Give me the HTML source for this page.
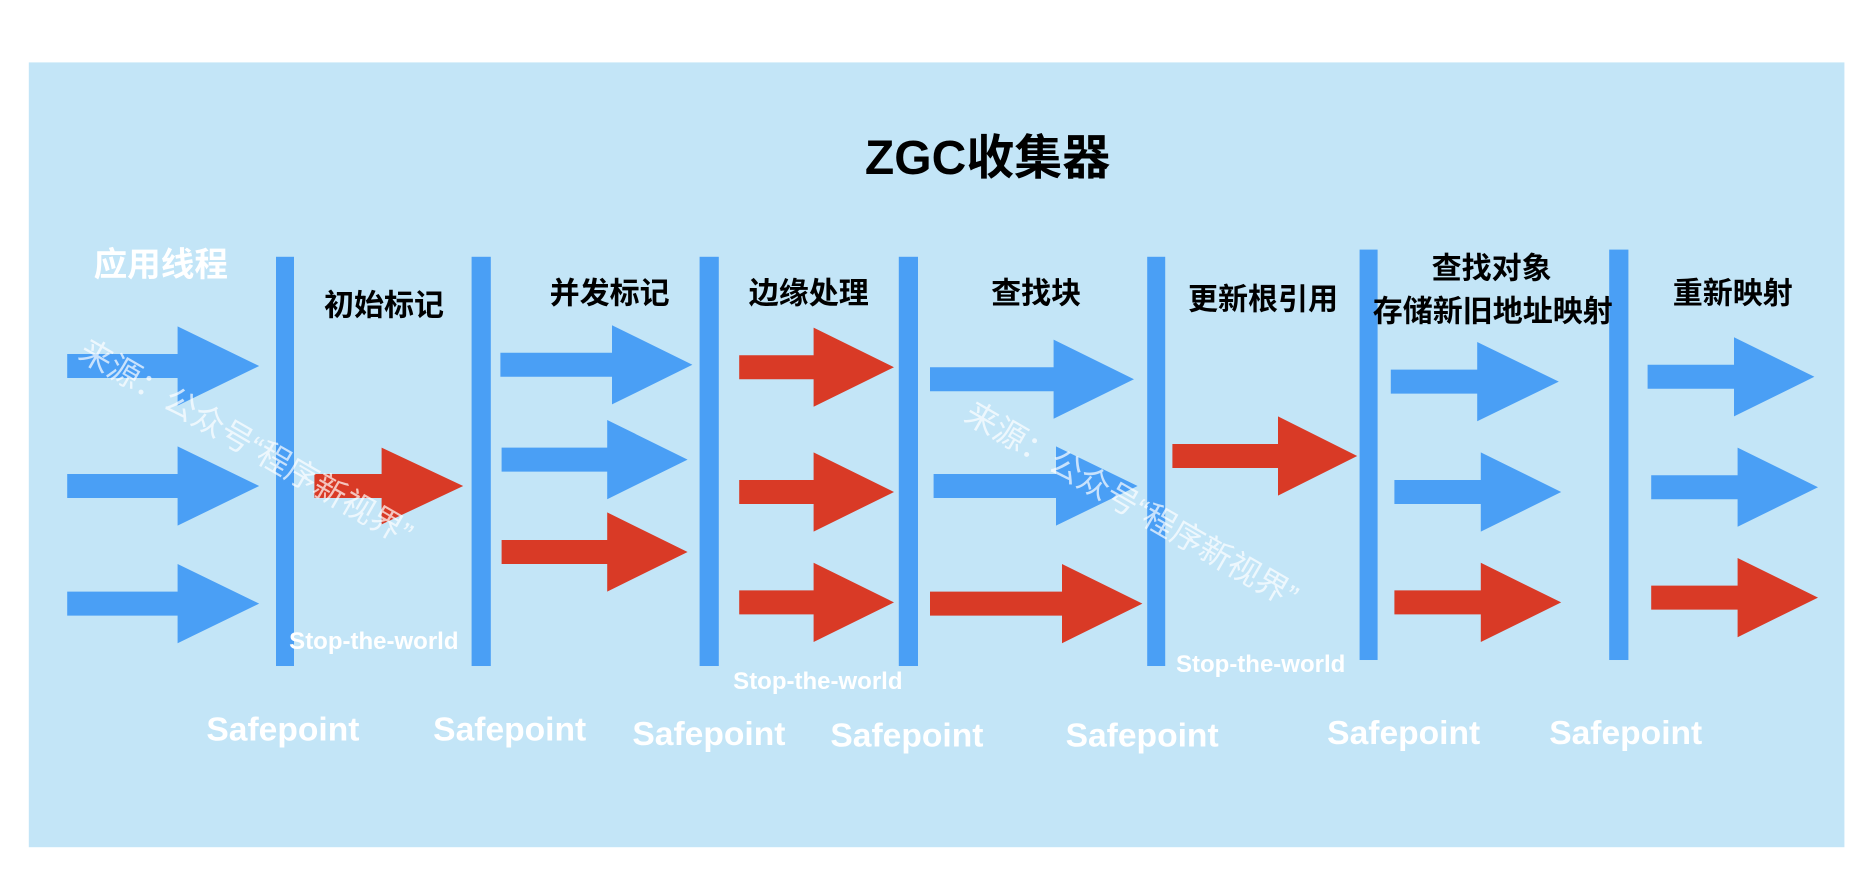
<!DOCTYPE html>
<html><head><meta charset="utf-8"><style>
html,body{margin:0;padding:0;background:#fff;width:1872px;height:880px;overflow:hidden}
svg{display:block}
text{font-family:"Liberation Sans","Noto Sans CJK SC",sans-serif;font-weight:bold}
</style></head><body>
<svg width="1872" height="880" viewBox="0 0 1560 733.33" preserveAspectRatio="none" xmlns="http://www.w3.org/2000/svg">
<rect x="0" y="0" width="1560" height="734" fill="#fff"/>
<rect x="24" y="52" width="1513" height="654" fill="#c3e5f7"/>
<text x="823" y="145" font-size="40" text-anchor="middle" fill="#000">ZGC收集器</text>
<g fill="#4a9ff5">
<rect x="230" y="214" width="15" height="341"/>
<rect x="393" y="214" width="16" height="341"/>
<rect x="583" y="214" width="16" height="341"/>
<rect x="749" y="214" width="16" height="341"/>
<rect x="956" y="214" width="15" height="341"/>
<rect x="1133" y="208" width="15" height="342"/>
<rect x="1341" y="208" width="16" height="342"/>
</g>
<g font-size="25" fill="#000">
<text x="270" y="263">初始标记</text>
<text x="458" y="253">并发标记</text>
<text x="624" y="253">边缘处理</text>
<text x="826" y="253">查找块</text>
<text x="990" y="258">更新根引用</text>
<text x="1193" y="232">查找对象</text>
<text x="1144" y="268">存储新旧地址映射</text>
<text x="1394" y="253">重新映射</text>
</g>
<text x="78" y="230" font-size="28" fill="#fff">应用线程</text>
<g fill="#4a9ff5">
<path d="M56,295H148V272L216,305L148,338V315H56Z"/>
<path d="M56,395H148V372L216,405L148,438V415H56Z"/>
<path d="M56,493H148V470L216,503L148,536V513H56Z"/>
<path d="M417,294H510V271L577,304L510,337V314H417Z"/>
<path d="M418,373H506V350L573,383L506,416V393H418Z"/>
<path d="M775,306H878V283L945,316L878,349V326H775Z"/>
<path d="M778,395H880V372L948,405L880,438V415H778Z"/>
<path d="M1159,308H1231V285L1299,318L1231,351V328H1159Z"/>
<path d="M1162,400H1234V377L1301,410L1234,443V420H1162Z"/>
<path d="M1373,304H1445V281L1512,314L1445,347V324H1373Z"/>
<path d="M1376,396H1448V373L1515,406L1448,439V416H1376Z"/>
</g>
<g fill="#d93a26">
<path d="M262,395H318V373L386,405L318,437V415H262Z"/>
<path d="M418,450H506V427L573,460L506,493V470H418Z"/>
<path d="M616,296H678V273L745,306L678,339V316H616Z"/>
<path d="M616,400H678V377L745,410L678,443V420H616Z"/>
<path d="M616,492H678V469L745,502L678,535V512H616Z"/>
<path d="M775,493H885V470L952,503L885,536V513H775Z"/>
<path d="M977,370H1065V347L1131,380L1065,413V390H977Z"/>
<path d="M1162,492H1234V469L1301,502L1234,535V512H1162Z"/>
<path d="M1376,488H1448V465L1515,498L1448,531V508H1376Z"/>
</g>
<g font-size="20" fill="#fff">
<text x="241" y="541">Stop-the-world</text>
<text x="611" y="574">Stop-the-world</text>
<text x="980" y="560">Stop-the-world</text>
</g>
<g font-size="28" fill="#fff">
<text x="172" y="617">Safepoint</text>
<text x="361" y="617">Safepoint</text>
<text x="527" y="621">Safepoint</text>
<text x="692" y="622">Safepoint</text>
<text x="888" y="622">Safepoint</text>
<text x="1106" y="620">Safepoint</text>
<text x="1291" y="620">Safepoint</text>
</g>
<g font-size="27" fill="#fff" fill-opacity="0.7">
<text x="64" y="298" transform="rotate(30 64 298)" style="font-weight:normal">来源：公众号“程序新视界”</text>
<text x="802" y="350" transform="rotate(30 802 350)" style="font-weight:normal">来源：公众号“程序新视界”</text>
</g>
</svg>
</body></html>
